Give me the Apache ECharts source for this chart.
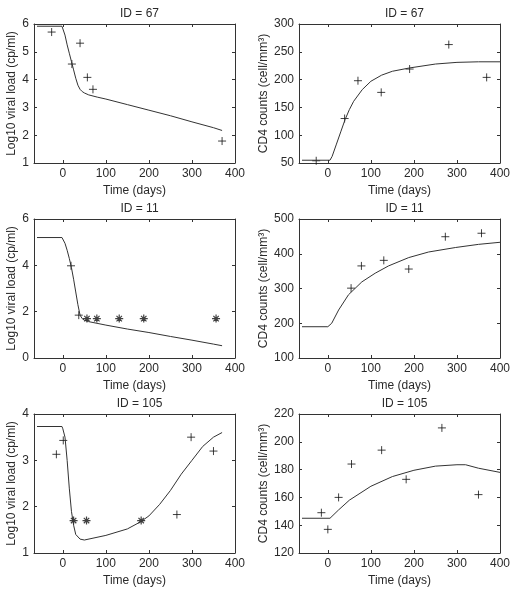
<!DOCTYPE html>
<html>
<head>
<meta charset="utf-8">
<script src="https://cdn.jsdelivr.net/npm/echarts@6/dist/echarts.min.js"></script>
<style>
html,body{margin:0;padding:0;background:#fff;}
#chart{width:516px;height:592px;}
</style>
</head>
<body>
<div id="chart"></div>
<script>
// ---------- data ----------
const titles = ['ID = 67', 'ID = 67', 'ID = 11', 'ID = 11', 'ID = 105', 'ID = 105'];
const xTicks = [0, 100, 200, 300, 400];
const yNameVL = 'Log10 viral load (cp/ml)';
const yNameCD4 = 'CD4 counts (cell/mm³)';
const xName = 'Time (days)';

// ID 67 viral load
const vl67Fit = [[-60,5.92],[-2,5.92],[0,5.88],[5,5.6],[10,5.25],[15,4.95],[20,4.65],[25,4.35],[30,4.05],[35,3.8],[40,3.65],[45,3.57],[50,3.52],[60,3.45],[80,3.37],[100,3.3],[150,3.1],[200,2.9],[250,2.7],[300,2.48],[350,2.27],[370,2.17]];
const vl67Obs = [[-26,5.71],[21,4.56],[40,5.31],[57,4.08],[70,3.65],[370,1.79]];
const vl67Cens = [];
// ID 67 CD4
const cd67Fit = [[-60,55],[5,55],[10,62],[20,84],[30,106],[40,128],[50,146],[60,161],[80,182],[100,197],[125,208],[150,215],[190,221],[250,228],[300,231],[350,232],[400,232]];
const cd67Obs = [[-27,54],[39,130],[70,198],[124,177],[190,219],[281,263],[369,204]];
// ID 11 viral load
const vl11Fit = [[-60,5.2],[-2,5.2],[0,5.15],[5,4.95],[10,4.65],[15,4.3],[20,3.9],[25,3.4],[30,2.85],[35,2.3],[40,1.85],[45,1.7],[50,1.63],[60,1.57],[100,1.42],[150,1.25],[200,1.1],[250,0.93],[300,0.77],[350,0.6],[370,0.53]];
const vl11Obs = [[19,3.98],[37,1.85]];
const vl11Cens = [[56,1.7],[79,1.7],[131,1.7],[188,1.7],[356,1.7]];
// ID 11 CD4
const cd11Fit = [[-60,190],[0,190],[9,200],[25,238],[48,282],[79,319],[110,344],[141,365],[188,389],[234,405],[297,418],[350,427],[400,433]];
const cd11Obs = [[54,301],[78,365],[130,381],[188,356],[273,449],[357,459]];
// ID 105 viral load
const vl105Fit = [[-60,3.73],[-2,3.73],[0,3.68],[5,3.5],[10,3.0],[15,2.4],[20,1.9],[25,1.6],[30,1.4],[40,1.3],[50,1.28],[100,1.38],[150,1.52],[180,1.67],[200,1.8],[225,2.05],[250,2.35],[275,2.7],[300,3.0],[325,3.3],[350,3.5],[370,3.6]];
const vl105Obs = [[-15,3.13],[1,3.43],[265,1.83],[298,3.5],[350,3.2]];
const vl105Cens = [[25,1.7],[55,1.7],[182,1.7]];
// ID 105 CD4
const cd105Fit = [[-60,145],[5,145],[25,151],[50,158],[100,168],[150,175],[200,179.5],[250,182.5],[300,183.5],[320,183.5],[350,181],[400,178]];
const cd105Obs = [[-15,149],[0,137],[25,160],[55,184],[125,194],[182,173],[265,210],[350,162]];

const yRanges = [[1,6,1],[50,300,50],[0,6,2],[100,500,100],[1,4,1],[120,220,20]];
const fits = [vl67Fit, cd67Fit, vl11Fit, cd11Fit, vl105Fit, cd105Fit];
const obs = [vl67Obs, cd67Obs, vl11Obs, cd11Obs, vl105Obs, cd105Obs];
const cens = [vl67Cens, [], vl11Cens, [], vl105Cens, []];

// ---------- layout ----------
const FONT = 'Liberation Sans, Arial, sans-serif';
const TXT = '#2a2a2a';
const LINE = '#333';
const colLeft = [34, 299];
const rowTop = [24, 219, 414];
const W = 201, H = 139;
const XMIN = -67, XMAX = 400;

const plusPath = 'path://M0,5L10,5M5,0L5,10';
const starPath = 'path://M0,5L10,5M5,0L5,10M1.6,1.6L8.4,8.4M1.6,8.4L8.4,1.6';

const grids = [], xAxes = [], yAxes = [], series = [], titleArr = [];
for (let g = 0; g < 6; g++) {
  const col = g % 2, row = Math.floor(g / 2);
  grids.push({left: colLeft[col], top: rowTop[row], width: W, height: H, containLabel: false});
  titleArr.push({
    text: titles[g], left: colLeft[col] + W / 2, top: rowTop[row] - 21, textAlign: 'center',
    textStyle: {fontFamily: FONT, fontSize: 12, fontWeight: 'normal', color: TXT}
  });
  const axLine = {show: true, onZero: false, lineStyle: {color: LINE, width: 1}};
  const tick = {show: true, inside: true, length: 3, lineStyle: {color: LINE}};
  xAxes.push({
    type: 'value', gridIndex: g, position: 'bottom', min: XMIN, max: XMAX,
    axisLine: axLine, axisTick: Object.assign({}, tick, {customValues: xTicks}),
    axisLabel: {customValues: xTicks, fontFamily: FONT, fontSize: 12, color: TXT, margin: 5},
    splitLine: {show: false},
    name: xName, nameLocation: 'middle', nameGap: 22,
    nameTextStyle: {fontFamily: FONT, fontSize: 12, color: TXT}
  });
  xAxes.push({
    type: 'value', gridIndex: g, position: 'top', min: XMIN, max: XMAX,
    axisLine: axLine, axisTick: Object.assign({}, tick, {customValues: xTicks}),
    axisLabel: {show: false}, splitLine: {show: false}
  });
  const yr = yRanges[g];
  yAxes.push({
    type: 'value', gridIndex: g, position: 'left', min: yr[0], max: yr[1], interval: yr[2],
    axisLine: axLine, axisTick: tick,
    axisLabel: {fontFamily: FONT, fontSize: 12, color: TXT, margin: 5},
    splitLine: {show: false},
    name: col === 0 ? yNameVL : yNameCD4, nameLocation: 'middle',
    nameGap: col === 0 ? 16 : 28,
    nameTextStyle: {fontFamily: FONT, fontSize: 12, color: TXT}
  });
  yAxes.push({
    type: 'value', gridIndex: g, position: 'right', min: yr[0], max: yr[1], interval: yr[2],
    axisLine: axLine, axisTick: tick, axisLabel: {show: false}, splitLine: {show: false}
  });
  series.push({
    type: 'line', xAxisIndex: 2 * g, yAxisIndex: 2 * g, data: fits[g],
    showSymbol: false, symbol: 'none', lineStyle: {color: LINE, width: 1}, animation: false, silent: true
  });
  series.push({
    type: 'scatter', xAxisIndex: 2 * g, yAxisIndex: 2 * g, data: obs[g],
    symbol: plusPath, symbolSize: 8,
    itemStyle: {color: 'none', borderColor: '#111', borderWidth: 1}, animation: false, silent: true
  });
  if (cens[g].length) {
    series.push({
      type: 'scatter', xAxisIndex: 2 * g, yAxisIndex: 2 * g, data: cens[g],
      symbol: starPath, symbolSize: 8,
      itemStyle: {color: 'none', borderColor: '#111', borderWidth: 1.2}, animation: false, silent: true
    });
  }
}

const chart = echarts.init(document.getElementById('chart'), null, {renderer: 'canvas'});
chart.setOption({
  backgroundColor: '#fff',
  animation: false,
  title: titleArr,
  grid: grids,
  xAxis: xAxes,
  yAxis: yAxes,
  series: series
});
</script>
</body>
</html>
